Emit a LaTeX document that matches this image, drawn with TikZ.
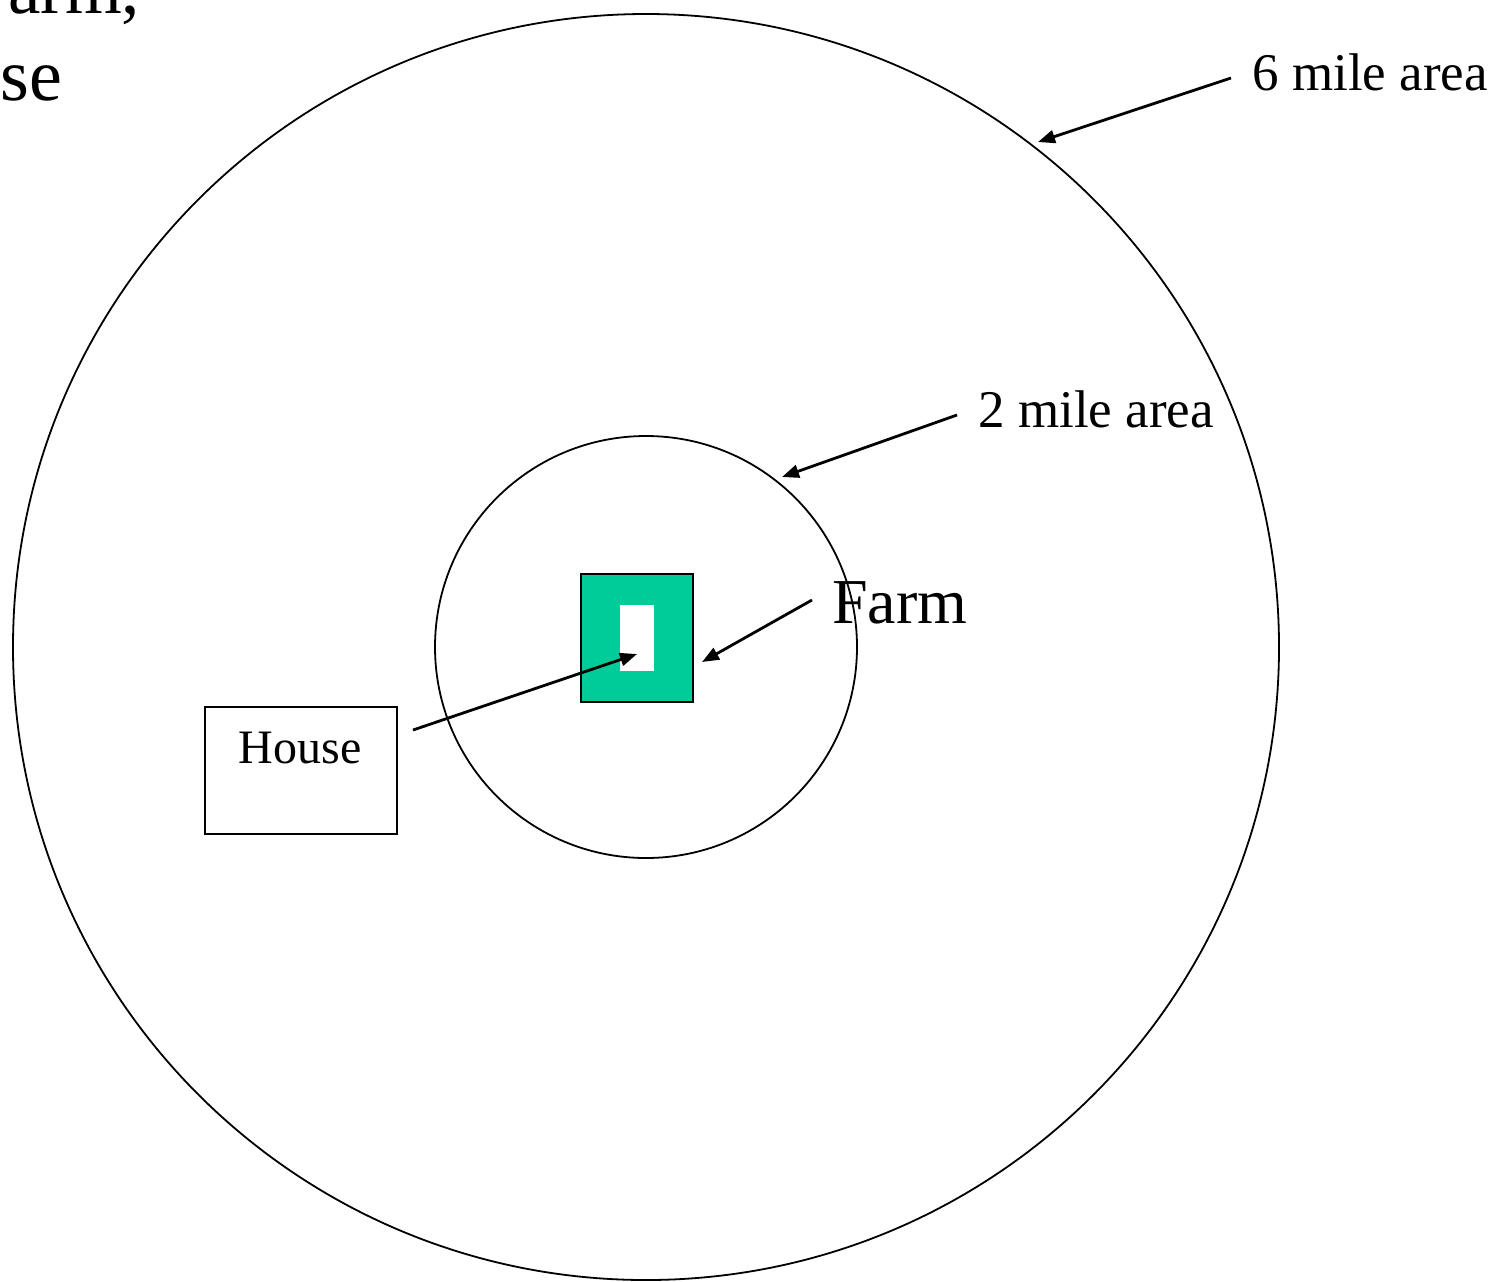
\documentclass[tikz,border=0pt]{standalone}
\usepackage{fontspec}
\setmainfont{Liberation Serif}
\usetikzlibrary{arrows.meta}
\definecolor{farmgreen}{HTML}{00CC99}
\begin{document}
\begin{tikzpicture}[x=0.5pt,y=-0.5pt,
  ring/.style={draw,circle,line width=0.9pt,inner sep=0pt,outer sep=0pt},
  pointer/.style={line width=1.4pt,-{Triangle[length=8.5pt,width=6.5pt]}},
  lbl/.style={inner sep=0pt,anchor=base west,font=\fontsize{26.5}{30}\selectfont}]
\useasboundingbox (0,0) rectangle (1492,1281);
% circles
\node[ring,minimum size=633pt] (outer) at (646,647) {};
\node[ring,minimum size=211pt] (inner) at (646,647) {};
% farm
\node[draw,line width=1.2pt,fill=farmgreen,minimum width=56pt,minimum height=64pt,inner sep=0pt] (farm) at (637,638) {};
\node[fill=white,minimum width=17pt,minimum height=33pt,inner sep=0pt] (yard) at (637,638) {};
% house
\node[draw,line width=1.3pt,minimum width=96pt,minimum height=63.5pt,inner sep=0pt] (house) at (301,770.5) {};
\node[inner sep=0pt,anchor=base,font=\fontsize{24}{28}\selectfont] (houselbl) at (300,763) {House};
% labels
\node[lbl] (six) at (1252,90) {6 mile area};
\node[lbl] (two) at (978,427) {2 mile area};
\node[lbl,font=\fontsize{32}{36}\selectfont] (farmlbl) at (832,623) {Farm};
\node[inner sep=0pt,anchor=base west,font=\fontsize{36.5}{40}\selectfont] (t1) at (8,13) {arm,};
\node[inner sep=0pt,anchor=base west,font=\fontsize{37}{40}\selectfont] (t2) at (0,100) {se};
% arrow coordinates
\coordinate (s6) at (1231,78);
\coordinate (e6) at (1038,142);
\coordinate (s2) at (957,415);
\coordinate (e2) at (782,477);
\coordinate (sf) at (812,600);
\coordinate (ef) at (702,662);
\coordinate (sh) at (413,730);
\coordinate (eh) at (637,654);
\draw[pointer] (s6) -- (e6);
\draw[pointer] (s2) -- (e2);
\draw[pointer] (sf) -- (ef);
\draw[pointer] (sh) -- (eh);
\end{tikzpicture}
\end{document}
